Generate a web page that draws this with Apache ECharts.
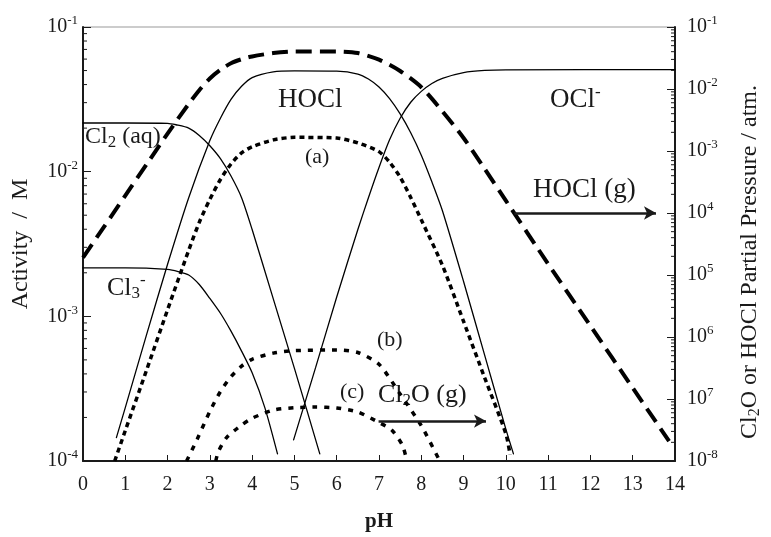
<!DOCTYPE html>
<html><head><meta charset="utf-8">
<script src="https://cdn.jsdelivr.net/npm/echarts@6/dist/echarts.min.js"></script>
<style>html,body{margin:0;padding:0;background:#fff}#c{width:771px;height:537px}</style>
</head><body><div id="c"></div>
<script>
// ---- data: [pH, value] ----
// left axis (Activity / M)
const cl2aq = [[0,2.17e-2],[1,2.17e-2],[2,2.16e-2],[2.2,2.11e-2],[2.5,2.0e-2],[2.75,1.78e-2],[3,1.51e-2],[3.25,1.23e-2],[3.5,9.33e-3],[3.75,6.61e-3],[4,3.98e-3],[4.5,1.32e-3],[5,4.37e-4],[5.6,1.12e-4]];
const cl3 = [[0,2.16e-3],[1,2.16e-3],[2,2.11e-3],[2.25,2.04e-3],[2.5,1.93e-3],[2.75,1.66e-3],[3,1.33e-3],[3.25,1.05e-3],[3.5,7.9e-4],[3.75,5.75e-4],[4,4.07e-4],[4.3,2.34e-4],[4.6,1.12e-4]];
const hocl = [[0.79,1.45e-4],[1,2.34e-4],[1.5,7.41e-4],[2,2.29e-3],[2.5,6.61e-3],[3,1.64e-2],[3.25,2.34e-2],[3.5,3.16e-2],[3.75,3.89e-2],[4,4.47e-2],[4.5,4.9e-2],[5,4.97e-2],[6,4.95e-2],[6.5,4.73e-2],[6.75,4.37e-2],[7,3.85e-2],[7.25,3.2e-2],[7.5,2.51e-2],[7.75,1.86e-2],[8,1.3e-2],[8.25,8.51e-3],[8.5,5.37e-3],[9,1.74e-3],[9.5,5.37e-4],[10,1.66e-4],[10.18,1.12e-4]];
const ocl = [[4.98,1.4e-4],[5.5,4.42e-4],[6,1.36e-3],[6.5,3.98e-3],[6.75,6.61e-3],[7,1.07e-2],[7.25,1.66e-2],[7.5,2.34e-2],[7.75,3.02e-2],[8,3.59e-2],[8.25,4.07e-2],[8.5,4.42e-2],[9,4.84e-2],[9.5,5.01e-2],[10,5.06e-2],[14,5.07e-2]];
// right axis (partial pressure / atm.)
const hoclGas = [[0,1.91e-5],[0.5,6.03e-5],[1,1.91e-4],[1.5,6.03e-4],[2,1.91e-3],[2.5,5.75e-3],[2.75,9.55e-3],[3,1.48e-2],[3.25,2.04e-2],[3.5,2.6e-2],[3.75,3.02e-2],[4,3.35e-2],[4.5,3.8e-2],[5,4.03e-2],[6,4.03e-2],[6.5,3.8e-2],[7,2.97e-2],[7.5,1.95e-2],[8,1.07e-2],[8.5,4.37e-3],[9,1.62e-3],[9.5,5.13e-4],[10,1.58e-4],[11,1.51e-5],[12,1.51e-6],[13,1.51e-7],[13.86,2.09e-8]];
const cl2oA = [[0.75,1e-8],[1,3.09e-8],[1.5,2.88e-7],[2,2.75e-6],[2.5,2.51e-5],[2.75,7.08e-5],[3,1.66e-4],[3.25,3.47e-4],[3.5,6.17e-4],[3.75,9.33e-4],[4,1.17e-3],[4.5,1.51e-3],[5,1.66e-3],[6,1.62e-3],[6.5,1.35e-3],[7,9.77e-4],[7.25,6.61e-4],[7.5,3.8e-4],[7.75,1.78e-4],[8,7.76e-5],[8.5,1.43e-5],[9,1.78e-6],[9.5,2.19e-7],[10,2.75e-8],[10.1,1.26e-8]];
const cl2oB = [[2.45,1e-8],[2.7,2.24e-8],[3,6.31e-8],[3.25,1.32e-7],[3.5,2.29e-7],[3.75,3.39e-7],[4,4.37e-7],[4.5,5.5e-7],[5,6.03e-7],[6,6.17e-7],[6.5,5.62e-7],[7,3.63e-7],[7.5,1.2e-7],[8,3.72e-8],[8.4,1.12e-8]];
const cl2oC = [[3.14,1e-8],[3.2,1.41e-8],[3.4,2.4e-8],[3.75,3.8e-8],[4,4.9e-8],[4.5,6.61e-8],[5,7.24e-8],[5.5,7.41e-8],[6,7.16e-8],[6.5,6.17e-8],[7,4.17e-8],[7.3,3.16e-8],[7.55,1.82e-8],[7.66,1e-8]];
// arrows (start, end) in data coordinates on the right axis
const arrowHOClGas = [[10.2,1e-4],[13.55,1e-4]];
const arrowCl2OGas = [[6.99,4.4e-8],[9.53,4.4e-8]];
// axis ticks
const xTicks = [0,1,2,3,4,5,6,7,8,9,10,11,12,13,14];
const leftTicks = [1e-1,1e-2,1e-3,1e-4];
const leftTickSup = ['-1','-2','-3','-4'];
const rightTicks = [1e-1,1e-2,1e-3,1e-4,1e-5,1e-6,1e-7,1e-8];
const rightTickSup = ['-1','-2','-3','4','5','6','7','-8'];
const minorMult = [2,3,4,5,6,7,8,9];
const leftDecades = [1e-4,1e-3,1e-2];
const rightDecades = [1e-8,1e-7,1e-6,1e-5,1e-4,1e-3,1e-2];

const FONT = "'Liberation Serif','Times New Roman',serif";
const INK = '#1a1a1a';
const leftMinor = [], rightMinor = [];
leftDecades.forEach(d => minorMult.forEach(m => leftMinor.push([0, d*m])));
rightDecades.forEach(d => minorMult.forEach(m => rightMinor.push([14, d*m])));

function supLabel(ticks, sups){
  return function(v){
    for (let i=0;i<ticks.length;i++){
      if (Math.abs(Math.log10(v)-Math.log10(ticks[i]))<0.01) return '{b|10}{s|'+sups[i]+'}';
    }
    return '';
  };
}
const tickRich = {
  b:{fontFamily:FONT,fontSize:20,color:INK,lineHeight:24},
  s:{fontFamily:FONT,fontSize:13,color:INK,padding:[0,0,12,0]}
};
function tickRenderer(dir,len){
  return function(params, api){
    const p = api.coord([api.value(0), api.value(1)]);
    return {type:'line', shape:{x1:p[0],y1:p[1],x2:p[0]+dir*len,y2:p[1]}, style:{stroke:INK,lineWidth:1}};
  };
}
function lineSeries(name, data, yIdx, width, dash){
  return {
    name, type:'line', data, yAxisIndex:yIdx, showSymbol:false, symbol:'none',
    smooth:0.25, clip:true, silent:true,
    lineStyle:{color:'#000', width, type: dash || 'solid', cap: dash ? 'butt' : 'round'}
  };
}

const chart = echarts.init(document.getElementById('c'), null, {renderer:'canvas'});
const option = {
  animation:false,
  grid:{left:83,right:87,top:27,bottom:76,show:true,borderColor:'#999',borderWidth:1,containLabel:false},
  xAxis:{
    type:'value', min:0, max:14, interval:1,
    name:'pH', nameLocation:'middle', nameGap:50,
    nameTextStyle:{fontFamily:FONT,fontSize:21,fontWeight:'bold',color:INK},
    axisLine:{lineStyle:{color:INK,width:2}},
    axisTick:{inside:true,length:6,lineStyle:{color:INK,width:1}},
    axisLabel:{fontFamily:FONT,fontSize:20,color:INK,margin:14,
      formatter:v => xTicks.indexOf(v)>=0 ? String(v) : ''},
    splitLine:{show:false}
  },
  yAxis:[{
    type:'log', logBase:10, min:1e-4, max:1e-1, position:'left',
    name:'Activity  /  M', nameLocation:'middle', nameGap:50, nameRotate:90,
    nameTextStyle:{fontFamily:FONT,fontSize:24,color:INK},
    axisLine:{show:true,lineStyle:{color:INK,width:2}},
    axisTick:{inside:true,length:8,lineStyle:{color:INK,width:1}},
    axisLabel:{margin:5,formatter:supLabel(leftTicks,leftTickSup),rich:tickRich},
    splitLine:{show:false}
  },{
    type:'log', logBase:10, min:1e-8, max:1e-1, position:'right', splitNumber:7,
    name:'{n|Cl}{sub|2}{n|O or HOCl Partial Pressure / atm.}', nameLocation:'middle', nameGap:62, nameRotate:90,
    nameTextStyle:{fontFamily:FONT,fontSize:24,color:INK,padding:[0,36,0,0],
      rich:{n:{fontFamily:FONT,fontSize:24,color:INK},sub:{fontFamily:FONT,fontSize:16,color:INK,padding:[10,0,0,0]}}},
    axisLine:{show:true,lineStyle:{color:INK,width:2}},
    axisTick:{inside:true,length:8,lineStyle:{color:INK,width:1}},
    axisLabel:{margin:12,formatter:supLabel(rightTicks,rightTickSup),rich:tickRich},
    splitLine:{show:false}
  }],
  series:[
    lineSeries('Cl2(aq)', cl2aq, 0, 1.3),
    lineSeries('Cl3-', cl3, 0, 1.3),
    lineSeries('HOCl', hocl, 0, 1.3),
    lineSeries('OCl-', ocl, 0, 1.3),
    Object.assign(lineSeries('HOCl(g)', hoclGas, 1, 4, [16,8]), {
      markLine:{silent:true,symbol:['none','arrow'],symbolSize:[10,12],label:{show:false},
        lineStyle:{color:INK,width:2.5,type:'solid'},
        data:[[{coord:arrowHOClGas[0]},{coord:arrowHOClGas[1]}],[{coord:arrowCl2OGas[0]},{coord:arrowCl2OGas[1]}]]}
    }),
    lineSeries('Cl2O(g) a', cl2oA, 1, 3.5, [5,4]),
    lineSeries('Cl2O(g) b', cl2oB, 1, 3.5, [5,7]),
    lineSeries('Cl2O(g) c', cl2oC, 1, 3.5, [5,7]),
    {type:'custom', yAxisIndex:0, data:leftMinor, renderItem:tickRenderer(1,4), silent:true, clip:false},
    {type:'custom', yAxisIndex:1, data:rightMinor, renderItem:tickRenderer(-1,4), silent:true, clip:false}
  ]
};
chart.setOption(option);

// annotations
const subS = {fontFamily:FONT,fontSize:17,padding:[11,0,0,0]};
const supS = {fontFamily:FONT,fontSize:17,padding:[0,0,14,0]};
function txt(x,y,text,size,rich){
  return {type:'text', x, y, silent:true,
    style:{text, fill:INK, fontFamily:FONT, fontSize:size, verticalAlign:'middle', align:'left',
      rich: rich || {}}};
}
chart.setOption({graphic:[
  txt(85,137,'{n|Cl}{sub|2}{n| (aq)}',24,{n:{fontFamily:FONT,fontSize:24},sub:subS}),
  txt(278,100,'HOCl',27),
  txt(305,157,'(a)',22),
  txt(550,100,'{n|OCl}{sup|-}',27,{n:{fontFamily:FONT,fontSize:27},sup:supS}),
  txt(533,190,'HOCl (g)',27),
  txt(107,288,'{n|Cl}{sub|3}{sup|-}',26,{n:{fontFamily:FONT,fontSize:26},sub:subS,sup:supS}),
  txt(377,340,'(b)',22),
  txt(340,392,'(c)',22),
  txt(378,395,'{n|Cl}{sub|2}{n|O (g)}',26,{n:{fontFamily:FONT,fontSize:26},sub:subS})
]});
</script></body></html>
